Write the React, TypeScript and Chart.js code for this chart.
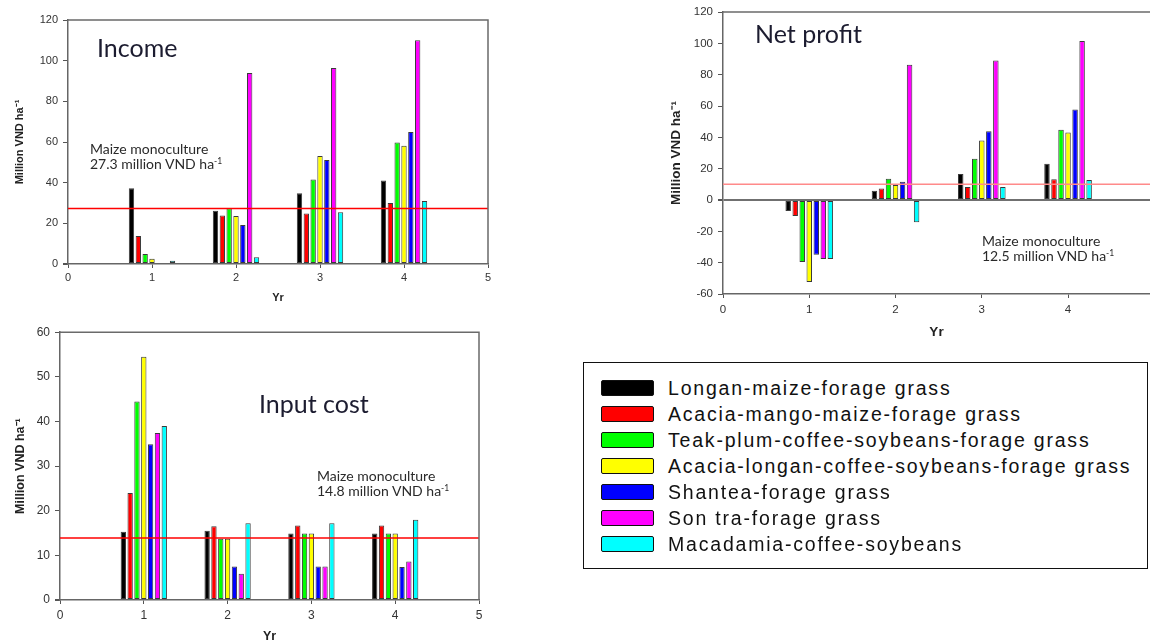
import React, { useEffect, useRef } from 'react';
import { Chart, registerables } from 'chart.js';

Chart.register(...registerables);

// ---------- data ----------
const years = [1, 2, 3, 4];
const xTickStep = 1;

const systemNames = [
  'Longan-maize-forage grass',
  'Acacia-mango-maize-forage grass',
  'Teak-plum-coffee-soybeans-forage grass',
  'Acacia-longan-coffee-soybeans-forage grass',
  'Shantea-forage grass',
  'Son tra-forage grass',
  'Macadamia-coffee-soybeans',
];
const systemColors = ['#000000', '#ff0000', '#00ff00', '#ffff00', '#0000ff', '#ff00ff', '#00ffff'];

// one row per system, one value per year (million VND/ha)
const incomeValues: (number | null)[][] = [
  [37.2, 26.2, 34.8, 41.1],
  [13.8, 23.9, 24.8, 30.0],
  [4.9, 27.4, 41.6, 59.7],
  [2.6, 23.6, 53.1, 58.2],
  [null, 19.2, 51.1, 64.9],
  [null, 93.9, 96.4, 110.0],
  [1.6, 3.3, 25.4, 31.0],
];
const netProfitValues: (number | null)[][] = [
  [-7.0, 5.9, 16.6, 23.1],
  [-10.2, 7.4, 8.3, 13.2],
  [-39.5, 13.6, 26.3, 44.8],
  [-52.4, 9.6, 38.0, 43.1],
  [-35.0, 11.7, 43.9, 57.7],
  [-37.6, 86.4, 89.0, 101.5],
  [-37.6, -14.2, 8.3, 12.7],
];
const inputCostValues: (number | null)[][] = [
  [15.3, 15.5, 14.9, 14.9],
  [24.0, 16.5, 16.7, 16.7],
  [44.5, 13.7, 14.9, 14.9],
  [54.5, 13.7, 14.9, 14.9],
  [34.9, 7.5, 7.5, 7.4],
  [37.4, 5.9, 7.5, 8.6],
  [39.0, 17.2, 17.2, 18.0],
];

// maize monoculture reference lines (as drawn) and their labels
const incomeMaizeLine = 27.3;
const netProfitMaizeLine = 10;
const inputCostMaizeLine = 13.9;
const incomeMaizeLabel = '27.3 million VND ha';
const netProfitMaizeLabel = '12.5 million VND ha';
const inputCostMaizeLabel = '14.8 million VND ha';

const yTitle = 'Million VND ha\u207B\u00B9';
const xTitle = 'Yr';

// ---------- chart helpers ----------
const SANS = '"Liberation Sans", Arial, sans-serif';

const framePlugin = {
  id: 'frame',
  afterDatasetsDraw(chart: any, _args: any, opts: any) {
    const { ctx, chartArea } = chart;
    const { left, right, top, bottom } = chartArea;
    ctx.save();
    ctx.strokeStyle = '#6a6a6a';
    ctx.lineWidth = 1.5;
    ctx.beginPath();
    ctx.moveTo(left, top);
    ctx.lineTo(right, top);
    if (opts && opts.right !== false) ctx.lineTo(right, bottom);
    ctx.stroke();
    ctx.restore();
  },
};

type Spec = {
  left: number;
  top: number;
  w: number;
  h: number;
  values: (number | null)[][];
  yMin: number;
  yMax: number;
  yStep: number;
  xMax: number;
  ref: number;
  refColor: string;
  padding: { top: number; right: number; bottom: number; left: number };
  yAxisW: number;
  xAxisH: number;
  yTitlePad: number;
  xTitlePad: number;
  xTickPad: number;
  tickSize: number;
  titleSize: number;
  zeroLine: boolean;
  rightFrame: boolean;
};

function buildConfig(s: Spec): any {
  const datasets: any[] = s.values.map((vals, i) => ({
    type: 'bar',
    label: systemNames[i],
    data: years.map((yr, j) => ({ x: yr, y: vals[j] })),
    backgroundColor: systemColors[i],
    borderColor: '#3a3a3a',
    borderWidth: 1,
    borderSkipped: false,
    categoryPercentage: 0.57,
    barPercentage: 0.78,
    order: 1,
  }));
  datasets.push({
    type: 'line',
    label: 'Maize monoculture',
    data: [
      { x: 0, y: s.ref },
      { x: s.xMax, y: s.ref },
    ],
    borderColor: s.refColor,
    borderWidth: 1.5,
    pointRadius: 0,
    order: 0,
  });

  return {
    type: 'bar',
    data: { datasets },
    options: {
      animation: false,
      responsive: false,
      devicePixelRatio: 1,
      layout: { padding: s.padding },
      plugins: {
        legend: { display: false },
        tooltip: { enabled: false },
        frame: { right: s.rightFrame },
      },
      scales: {
        x: {
          type: 'linear',
          min: 0,
          max: s.xMax,
          offset: false,
          ticks: {
            stepSize: xTickStep,
            includeBounds: false,
            padding: s.xTickPad,
            maxRotation: 0,
            autoSkip: false,
            color: '#333',
            font: { family: SANS, size: s.tickSize },
          },
          grid: {
            offset: false,
            drawOnChartArea: false,
            drawTicks: true,
            tickLength: 4,
            tickColor: '#555',
          },
          border: { display: true, color: '#666', width: 1.5 },
          title: {
            display: true,
            text: xTitle,
            color: '#222',
            font: { family: SANS, size: s.titleSize, weight: 'bold', lineHeight: 1 },
            padding: { top: 0, bottom: s.xTitlePad },
          },
          afterFit: (scale: any) => {
            scale.height = s.xAxisH;
          },
        },
        y: {
          min: s.yMin,
          max: s.yMax,
          ticks: {
            stepSize: s.yStep,
            padding: 5,
            color: '#333',
            font: { family: SANS, size: s.tickSize },
          },
          grid: {
            drawOnChartArea: s.zeroLine,
            drawTicks: true,
            tickLength: 5,
            tickColor: '#555',
            color: (c: any) => (c.tick && c.tick.value === 0 ? '#707070' : 'rgba(0,0,0,0)'),
            lineWidth: (c: any) => (c.tick && c.tick.value === 0 ? 2 : 1),
          },
          border: { display: true, color: '#666', width: 1.5 },
          title: {
            display: true,
            text: yTitle,
            color: '#222',
            font: { family: SANS, size: s.titleSize, weight: 'bold', lineHeight: 1.2 },
            padding: { top: s.yTitlePad, bottom: 0 },
          },
          afterFit: (scale: any) => {
            scale.width = s.yAxisW;
          },
        },
      },
    },
    plugins: [framePlugin],
  };
}

function Panel({ spec }: { spec: Spec }) {
  const ref = useRef<HTMLCanvasElement>(null);
  useEffect(() => {
    if (!ref.current) return;
    const chart = new Chart(ref.current, buildConfig(spec));
    return () => chart.destroy();
  }, [spec]);
  return (
    <canvas
      ref={ref}
      width={spec.w}
      height={spec.h}
      style={{ position: 'absolute', left: spec.left, top: spec.top, width: spec.w, height: spec.h }}
    />
  );
}

const incomeSpec: Spec = {
  left: 0, top: 0, w: 500, h: 310,
  values: incomeValues, yMin: 0, yMax: 120, yStep: 20, xMax: 5,
  ref: incomeMaizeLine, refColor: '#ff0000',
  padding: { top: 20, right: 12, bottom: 0, left: 0 },
  yAxisW: 68, xAxisH: 46, yTitlePad: 13, xTitlePad: 7, xTickPad: 3,
  tickSize: 11, titleSize: 11, zeroLine: false, rightFrame: true,
};
const netProfitSpec: Spec = {
  left: 660, top: 0, w: 490, h: 336,
  values: netProfitValues, yMin: -60, yMax: 120, yStep: 20, xMax: 4.95,
  ref: netProfitMaizeLine, refColor: '#ff8a8a',
  padding: { top: 12, right: 0, bottom: 0, left: 0 },
  yAxisW: 63, xAxisH: 42, yTitlePad: 8, xTitlePad: -3, xTickPad: 5,
  tickSize: 11.5, titleSize: 13.5, zeroLine: true, rightFrame: false,
};
const inputCostSpec: Spec = {
  left: 0, top: 320, w: 500, h: 323,
  values: inputCostValues, yMin: 0, yMax: 60, yStep: 10, xMax: 5,
  ref: inputCostMaizeLine, refColor: '#ff0000',
  padding: { top: 11, right: 21, bottom: 0, left: 0 },
  yAxisW: 60, xAxisH: 43, yTitlePad: 13, xTitlePad: 0, xTickPad: 4,
  tickSize: 12, titleSize: 12.5, zeroLine: false, rightFrame: true,
};

const noteFont = 'Lato, "Open Sans", sans-serif';
const panelTitleStyle: React.CSSProperties = {
  position: 'absolute',
  fontFamily: noteFont,
  fontSize: 25,
  lineHeight: '25px',
  color: '#1c1c30',
  whiteSpace: 'nowrap',
};
const noteStyle: React.CSSProperties = {
  position: 'absolute',
  fontFamily: noteFont,
  fontSize: 14,
  lineHeight: '15px',
  color: '#2a2a2a',
  whiteSpace: 'nowrap',
};

function MaizeNote({ left, top, label }: { left: number; top: number; label: string }) {
  return (
    <div style={{ ...noteStyle, left, top }}>
      Maize monoculture
      <br />
      {label}
      <sup style={{ fontSize: 8.5, verticalAlign: '5px', lineHeight: 0 }}>-1</sup>
    </div>
  );
}

function Legend() {
  return (
    <>
      <div
        style={{
          position: 'absolute',
          left: 583,
          top: 362,
          width: 565,
          height: 207,
          border: '1.5px solid #111',
          boxSizing: 'border-box',
        }}
      />
      {systemNames.map((name, i) => (
        <React.Fragment key={name}>
          <div
            style={{
              position: 'absolute',
              left: 601,
              top: 380 + 26 * i,
              width: 53,
              height: 16,
              background: systemColors[i],
              border: '1.5px solid #111',
              borderRadius: 2,
              boxSizing: 'border-box',
            }}
          />
          <div
            style={{
              position: 'absolute',
              left: 668,
              top: 375 + 26 * i,
              fontFamily: SANS,
              fontSize: 19.5,
              lineHeight: '26px',
              letterSpacing: '1.8px',
              color: '#111',
              whiteSpace: 'nowrap',
            }}
          >
            {name}
          </div>
        </React.Fragment>
      ))}
    </>
  );
}

export default function App() {
  return (
    <div
      style={{
        position: 'fixed',
        left: 0,
        top: 0,
        width: 1150,
        height: 643,
        background: '#ffffff',
        overflow: 'hidden',
      }}
    >
      <Panel spec={incomeSpec} />
      <Panel spec={netProfitSpec} />
      <Panel spec={inputCostSpec} />
      <div style={{ ...panelTitleStyle, left: 97, top: 35 }}>Income</div>
      <div style={{ ...panelTitleStyle, left: 755, top: 21 }}>Net profit</div>
      <div style={{ ...panelTitleStyle, left: 259, top: 391 }}>Input cost</div>
      <MaizeNote left={90} top={141} label={incomeMaizeLabel} />
      <MaizeNote left={982} top={233} label={netProfitMaizeLabel} />
      <MaizeNote left={317} top={468} label={inputCostMaizeLabel} />
      <Legend />
    </div>
  );
}
